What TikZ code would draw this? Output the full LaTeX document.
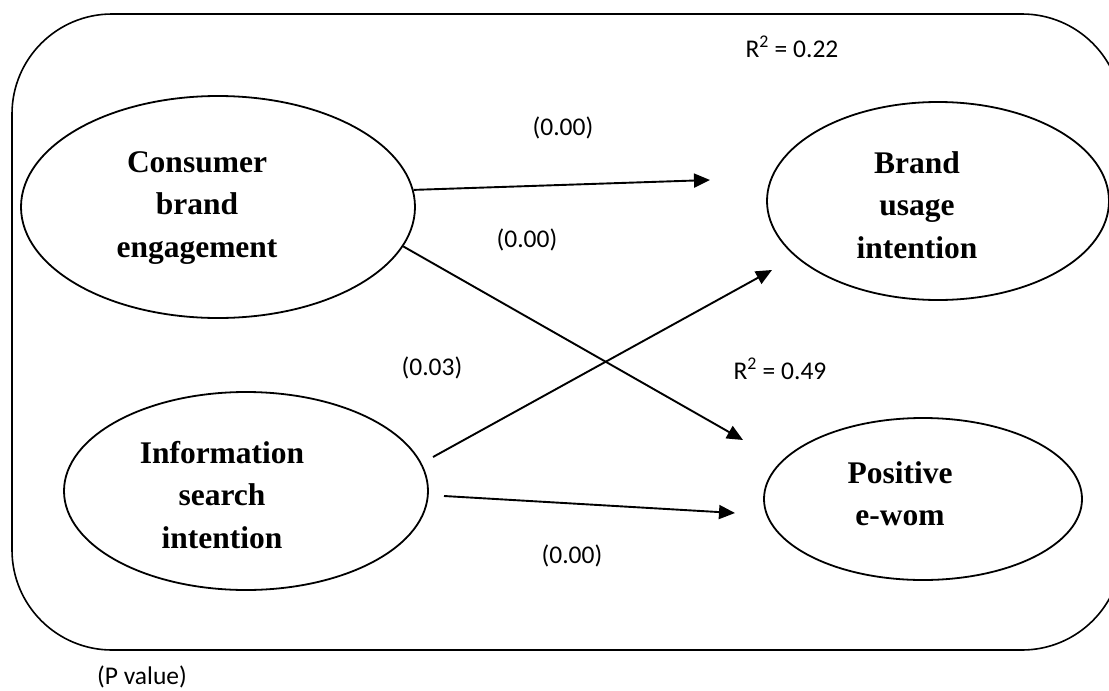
\documentclass[tikz,border=0pt]{standalone}
\usepackage{fontspec}
\setmainfont{Liberation Serif}
\newfontfamily\lblfont{Carlito}
\usetikzlibrary{arrows.meta,shapes.geometric}
\begin{document}
\begin{tikzpicture}[x=1pt,y=-1pt,
  construct/.style={ellipse, draw, line width=1.8pt, inner sep=0pt},
  ctext/.style={anchor=north, inner sep=0pt, align=center, font=\bfseries\fontsize{31.5}{42.5}\selectfont},
  lbl/.style={inner sep=0pt, font=\lblfont\fontsize{25.5}{30}\selectfont},
  arr/.style={line width=1.9pt, -{Triangle[length=16pt,width=14pt]}},
  frame/.style={draw, line width=1.6pt, rounded corners=100pt}]
\useasboundingbox (0,0) rectangle (1109,691);
\begin{scope}
  \clip (0,0) rectangle (1109,691);
  \draw[frame] (12,14) rectangle (1122,650);
\end{scope}

\node[construct, minimum width=394pt, minimum height=222pt] (cbe) at (218,207) {};
\node[construct, minimum width=342pt, minimum height=198pt] (bui) at (938,201) {};
\node[construct, minimum width=364pt, minimum height=198pt] (isi) at (246,491) {};
\node[construct, minimum width=318pt, minimum height=162pt] (pe) at (923,499) {};

\node[ctext] (cbet) at (197,151) {Consumer\\brand\\engagement};
\node[ctext] (buit) at (917,151) {Brand\\usage\\intention};
\node[ctext] (isit) at (222,441) {Information\\search\\intention};
\node[ctext] (pet) at (900,461) {Positive\\e-wom};

\coordinate (t1) at (710,180);
\coordinate (t2) at (743,440);
\coordinate (s3) at (433,457);
\coordinate (t3) at (772,270);
\coordinate (s4) at (444,496);
\coordinate (t4) at (735,513);
\draw[arr] (cbe.5) -- (t1);
\draw[arr] (cbe.-12) -- (t2);
\draw[arr] (s3) -- (t3);
\draw[arr] (s4) -- (t4);

\node[lbl] (p1) at (563,128) {(0.00)};
\node[lbl] (p2) at (527,240) {(0.00)};
\node[lbl] (p3) at (432,368) {(0.03)};
\node[lbl] (p4) at (572,556) {(0.00)};
\node[lbl, anchor=base] (r1) at (792,57) {R\textsuperscript{2} = 0.22};
\node[lbl, anchor=base] (r2) at (780,379) {R\textsuperscript{2} = 0.49};
\node[lbl] (pv) at (142,677) {(P value)};
\end{tikzpicture}
\end{document}
